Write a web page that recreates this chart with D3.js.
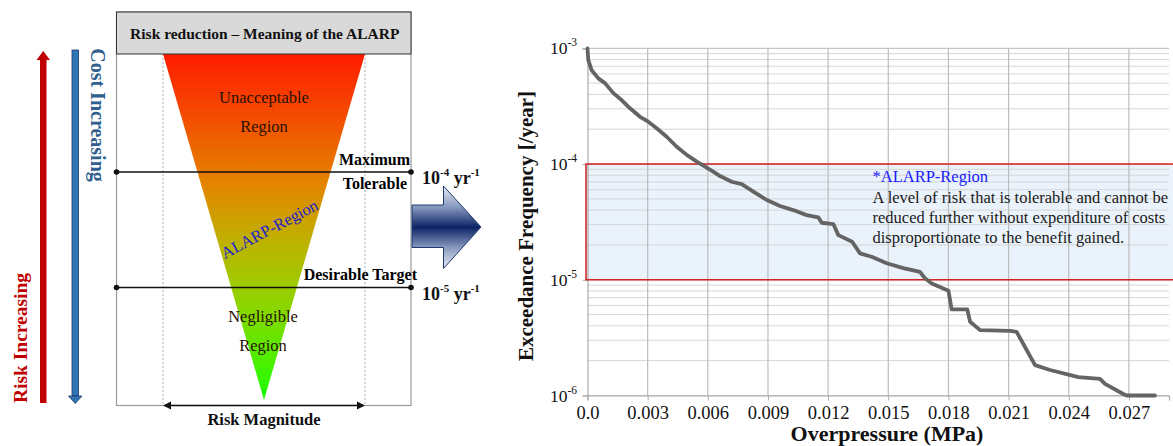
<!DOCTYPE html>
<html><head><meta charset="utf-8">
<script src="https://cdn.jsdelivr.net/npm/d3@7"></script>
<style>html,body{margin:0;padding:0;background:#fff;}svg{display:block;}</style>
</head><body>
<script>
// ---------- data ----------
const pressure = [0, 0.00004, 0.0002, 0.00054, 0.00087, 0.00129, 0.0017, 0.00212, 0.00262, 0.00303, 0.00345, 0.00395, 0.00445, 0.00495, 0.00545, 0.00586, 0.00627, 0.00661, 0.00719, 0.00769, 0.00827, 0.00894, 0.0096, 0.01026, 0.01093, 0.01151, 0.01168, 0.01226, 0.01251, 0.0132, 0.01359, 0.01417, 0.01492, 0.01575, 0.01658, 0.01683, 0.01717, 0.018, 0.01816, 0.01894, 0.01908, 0.01958, 0.02107, 0.0214, 0.02232, 0.02307, 0.02448, 0.02556, 0.02581, 0.02672, 0.02689, 0.0283];
const frequency = [1e-3, 7.9e-4, 6.5e-4, 5.5e-4, 5.0e-4, 4.1e-4, 3.57e-4, 3.03e-4, 2.56e-4, 2.32e-4, 2.04e-4, 1.72e-4, 1.41e-4, 1.2e-4, 1.05e-4, 9.5e-5, 8.6e-5, 7.87e-5, 7.03e-5, 6.7e-5, 5.77e-5, 4.89e-5, 4.34e-5, 4.0e-5, 3.62e-5, 3.46e-5, 3.11e-5, 3.03e-5, 2.43e-5, 2.13e-5, 1.69e-5, 1.58e-5, 1.39e-5, 1.26e-5, 1.17e-5, 1.03e-5, 9.3e-6, 8.04e-6, 5.55e-6, 5.55e-6, 4.34e-6, 3.67e-6, 3.62e-6, 3.55e-6, 1.83e-6, 1.66e-6, 1.44e-6, 1.39e-6, 1.26e-6, 1.03e-6, 1.0e-6, 1.0e-6];
const xTicks = [0, 0.003, 0.006, 0.009, 0.012, 0.015, 0.018, 0.021, 0.024, 0.027];
const xTickLabels = ["0.0", "0.003", "0.006", "0.009", "0.012", "0.015", "0.018", "0.021", "0.024", "0.027"];
const yDecades = [1e-3, 1e-4, 1e-5, 1e-6];
const yDecadeExps = ["-3", "-4", "-5", "-6"];
const alarpBand = [1e-5, 1e-4];
const alarpNote = ["A level of risk that is tolerable and cannot be", "reduced further without expenditure of costs", "disproportionate to the benefit gained."];
const diagramLevels = [
  {labels: ["Maximum", "Tolerable"], exp: "-4"},
  {labels: ["Desirable Target"], exp: "-5"}
];

const W = 1173, H = 446;
const serif = "'Liberation Serif', 'Times New Roman', serif";
const svg = d3.select("body").append("svg").attr("width", W).attr("height", H)
  .style("font-family", serif);
svg.append("rect").attr("width", W).attr("height", H).attr("fill", "#fff");
const defs = svg.append("defs");

// ================= LEFT DIAGRAM =================
const L = svg.append("g");
const boxL = 116.5, boxR = 411, boxT = 12, boxB = 405.5, titleB = 54;
const dY = d3.scaleLog().domain([1e-4, 1e-5]).range([172, 287.5]);

const tg = defs.append("linearGradient").attr("id", "triG").attr("x1", 0).attr("y1", 0).attr("x2", 0).attr("y2", 1);
[[0, "#ff1c00"], [0.2, "#f25200"], [0.38, "#e38600"], [0.55, "#bcb400"], [0.72, "#8fd400"], [0.88, "#50ee00"], [1, "#18ff00"]]
  .forEach(([o, c]) => tg.append("stop").attr("offset", o).attr("stop-color", c));

L.append("rect").attr("x", boxL).attr("y", boxT).attr("width", boxR - boxL).attr("height", boxB - boxT)
  .attr("fill", "none").attr("stroke", "#9a9a9a").attr("stroke-width", 1.2);
[163, 365].forEach(x => L.append("line").attr("x1", x).attr("x2", x).attr("y1", titleB).attr("y2", boxB)
  .attr("stroke", "#999").attr("stroke-width", 0.8).attr("stroke-dasharray", "2,2"));
L.append("path").attr("d", `M163,${titleB} L365,${titleB} L264,400 Z`).attr("fill", "url(#triG)");
L.append("rect").attr("x", boxL).attr("y", boxT).attr("width", boxR - boxL).attr("height", titleB - boxT)
  .attr("fill", "#d9d9d9").attr("stroke", "#333").attr("stroke-width", 1);
L.append("text").attr("x", (boxL + boxR) / 2 + 1).attr("y", 39).attr("text-anchor", "middle")
  .attr("font-size", 15.5).attr("font-weight", "bold").attr("fill", "#111")
  .text("Risk reduction \u2013 Meaning of the ALARP");

const regT = L.append("g").attr("font-size", 16.5).attr("fill", "#2a1000").attr("text-anchor", "middle");
regT.append("text").attr("x", 264).attr("y", 103).text("Unacceptable");
regT.append("text").attr("x", 264).attr("y", 132).text("Region");
regT.append("text").attr("x", 263).attr("y", 322).text("Negligible");
regT.append("text").attr("x", 263).attr("y", 351).text("Region");
L.append("text").attr("transform", "translate(272,234) rotate(-28)").attr("text-anchor", "middle")
  .attr("font-size", 16.5).attr("fill", "#2222cc").text("ALARP-Region");

diagramLevels.forEach(lv => {
  const yy = dY(Math.pow(10, +lv.exp));
  L.append("line").attr("x1", boxL).attr("x2", boxR).attr("y1", yy).attr("y2", yy)
    .attr("stroke", "#111").attr("stroke-width", 1.6);
  [boxL, boxR].forEach(x => L.append("circle").attr("cx", x).attr("cy", yy).attr("r", 2.8).attr("fill", "#111"));
  if (lv.labels.length === 2) {
    L.append("text").attr("x", 410).attr("y", yy - 7).attr("text-anchor", "end").attr("font-size", 16)
      .attr("font-weight", "bold").text(lv.labels[0]);
    L.append("text").attr("x", 407).attr("y", yy + 17).attr("text-anchor", "end").attr("font-size", 16)
      .attr("font-weight", "bold").text(lv.labels[1]);
  } else {
    L.append("text").attr("x", 417).attr("y", yy - 8).attr("text-anchor", "end").attr("font-size", 16)
      .attr("font-weight", "bold").text(lv.labels[0]);
  }
  const t = L.append("text").attr("x", 422).attr("y", yy + 12).attr("font-size", 18).attr("font-weight", "bold").attr("fill", "#111");
  t.append("tspan").text("10");
  t.append("tspan").attr("font-size", 11).attr("dy", -8).text(lv.exp);
  t.append("tspan").attr("dy", 8).text(" yr");
  t.append("tspan").attr("font-size", 11).attr("dy", -8).text("-1");
});

L.append("line").attr("x1", 170).attr("x2", 358).attr("y1", 405.5).attr("y2", 405.5).attr("stroke", "#111").attr("stroke-width", 1.6);
L.append("path").attr("d", "M163,405.5 L171,401.5 L171,409.5 Z").attr("fill", "#111");
L.append("path").attr("d", "M365,405.5 L357,401.5 L357,409.5 Z").attr("fill", "#111");
L.append("text").attr("x", 264).attr("y", 425).attr("text-anchor", "middle").attr("font-size", 16.5)
  .attr("font-weight", "bold").attr("fill", "#111").text("Risk Magnitude");

L.append("rect").attr("x", 40).attr("y", 59).attr("width", 6.5).attr("height", 344).attr("fill", "#c00000");
L.append("path").attr("d", "M36.5,60 L43.25,51 L50,60 Z").attr("fill", "#c00000");
L.append("text").attr("transform", "translate(27,338) rotate(-90)").attr("text-anchor", "middle")
  .attr("font-size", 19.5).attr("font-weight", "bold").attr("fill", "#c00000").text("Risk Increasing");

L.append("rect").attr("x", 72).attr("y", 50).attr("width", 6.5).attr("height", 346).attr("fill", "#2e75b6")
  .attr("stroke", "#1f3864").attr("stroke-width", 0.8);
L.append("path").attr("d", "M68.5,396 L75.25,403.5 L82,396 Z").attr("fill", "#2e75b6").attr("stroke", "#1f3864").attr("stroke-width", 0.8);
L.append("text").attr("transform", "translate(91,115) rotate(90)").attr("text-anchor", "middle")
  .attr("font-size", 20).attr("font-weight", "bold").attr("fill", "#2f5f8f").text("Cost Increasing");

const ag = defs.append("linearGradient").attr("id", "arrG").attr("x1", 0).attr("y1", 0).attr("x2", 0).attr("y2", 1);
[[0, "#e8ecf4"], [0.25, "#8a9bc0"], [0.5, "#0c2466"], [0.75, "#8a9bc0"], [1, "#e8ecf4"]]
  .forEach(([o, c]) => ag.append("stop").attr("offset", o).attr("stop-color", c));
L.append("path").attr("d", "M412,205 L443.5,205 L443.5,186 L481,227 L443.5,268.5 L443.5,247.5 L412,247.5 Z")
  .attr("fill", "url(#arrG)").attr("stroke", "#1f3a70").attr("stroke-width", 1);

// ================= RIGHT CHART =================
const x = d3.scaleLinear().domain([0, 0.029]).range([587.5, 1169]);
const y = d3.scaleLog().domain([1e-6, 1e-3]).range([395.5, 48.3]);
const R = svg.append("g");

R.append("rect").attr("x", 586).attr("y", y(alarpBand[1])).attr("width", W - 586)
  .attr("height", y(alarpBand[0]) - y(alarpBand[1])).attr("fill", "#eaf2fb");

const minor = [];
for (let e = -6; e < -3; e++) for (let m = 2; m <= 9; m++) minor.push(m * Math.pow(10, e));
R.selectAll(".hmin").data(minor).join("line")
  .attr("x1", x(0)).attr("x2", x(0.029)).attr("y1", d => y(d)).attr("y2", d => y(d))
  .attr("stroke", "#d6d6d6").attr("stroke-width", 1);
R.selectAll(".hmaj").data(yDecades).join("line")
  .attr("x1", x(0)).attr("x2", x(0.029)).attr("y1", d => y(d)).attr("y2", d => y(d))
  .attr("stroke", "#c6c6c6").attr("stroke-width", 1.2);
R.selectAll(".vg").data(xTicks.slice(1)).join("line")
  .attr("x1", d => x(d)).attr("x2", d => x(d)).attr("y1", y(1e-3)).attr("y2", y(1e-6))
  .attr("stroke", "#bdbdbd").attr("stroke-width", 1.2);

const xAxis = d3.axisBottom(x).tickValues(xTicks).tickSize(5).tickFormat((d, i) => xTickLabels[i]);
const gx = R.append("g").attr("transform", `translate(0,${y(1e-6)})`).call(xAxis);
gx.select(".domain").attr("stroke", "#aaa").attr("stroke-width", 1.2);
gx.selectAll(".tick line").attr("stroke", "#aaa");
gx.selectAll(".tick text").attr("font-family", serif).attr("font-size", 18.5).attr("fill", "#111").attr("dy", "0.85em");

const yAxis = d3.axisLeft(y).tickValues(yDecades).tickSize(5).tickFormat("");
const gy = R.append("g").attr("transform", `translate(${x(0)},0)`).call(yAxis);
gy.select(".domain").attr("stroke", "#aaa").attr("stroke-width", 1.2);
gy.selectAll(".tick line").attr("stroke", "#aaa");
yDecades.forEach((d, i) => {
  const t = R.append("text").attr("x", 550).attr("y", y(d) + 6).attr("font-size", 17.5).attr("fill", "#111");
  t.append("tspan").text("10");
  t.append("tspan").attr("font-size", 11.5).attr("dy", -8).text(yDecadeExps[i]);
});

R.append("rect").attr("x", 586).attr("y", y(alarpBand[1])).attr("width", W - 586 + 5)
  .attr("height", y(alarpBand[0]) - y(alarpBand[1])).attr("fill", "none").attr("stroke", "#d42020").attr("stroke-width", 1.5);

const line = d3.line().x((d, i) => x(pressure[i])).y((d, i) => y(frequency[i]));
R.append("path").datum(frequency).attr("d", line).attr("fill", "none")
  .attr("stroke", "#646464").attr("stroke-width", 3.8).attr("stroke-linejoin", "round").attr("stroke-linecap", "round");

R.append("text").attr("x", 872.5).attr("y", 182).attr("font-size", 16.5).attr("fill", "#1a1aff").text("*ALARP-Region");
R.selectAll(".note").data(alarpNote).join("text").attr("x", 872.5).attr("y", (d, i) => 202.5 + i * 20)
  .attr("font-size", 16.5).attr("fill", "#1a1a1a").text(d => d);

R.append("text").attr("transform", "translate(533,226) rotate(-90)").attr("text-anchor", "middle")
  .attr("font-size", 21).attr("font-weight", "bold").attr("fill", "#111").text("Exceedance Frequency [/year]");
R.append("text").attr("x", 887).attr("y", 441).attr("text-anchor", "middle")
  .attr("font-size", 22).attr("font-weight", "bold").attr("fill", "#111").text("Overpressure (MPa)");
</script>
</body></html>
